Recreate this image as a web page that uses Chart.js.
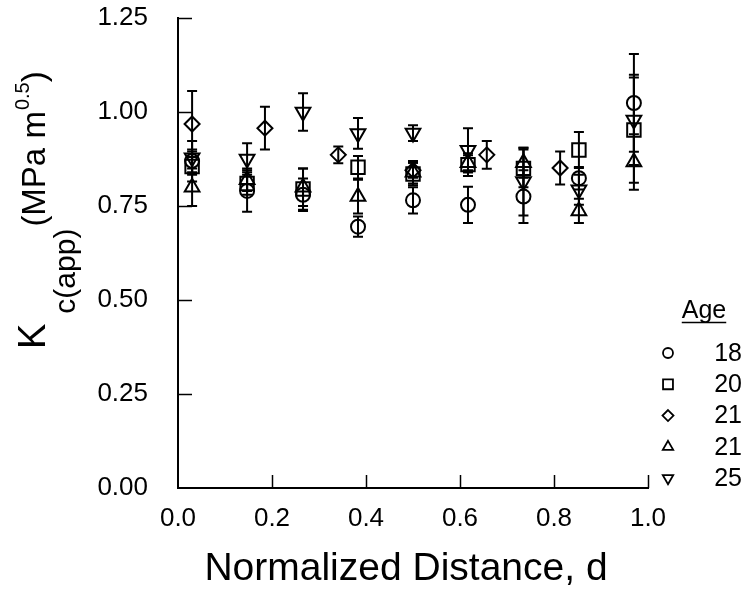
<!DOCTYPE html>
<html><head><meta charset="utf-8">
<script src="https://cdn.jsdelivr.net/npm/chart.js@4/dist/chart.umd.min.js"></script>
<style>html,body{margin:0;padding:0;background:#fff}</style>
</head><body>
<canvas id="c" width="750" height="593" style="display:block;width:750px;height:593px"></canvas>
<script>
// ---- data ----
const seriesLabels = ['18', '20', '21', '21', '25'];
const dist = [0.03, 0.147, 0.266, 0.383, 0.50, 0.617, 0.735, 0.853, 0.97];
const distDiamond = [0.03, 0.185, 0.341, 0.50, 0.657, 0.813];
const k18 = [0.87, 0.79, 0.78, 0.695, 0.765, 0.753, 0.775, 0.824, 1.024];
const err18 = [0.03, 0.055, 0.043, 0.027, 0.035, 0.048, 0.07, 0.03, 0.13];
const k20 = [0.855, 0.81, 0.795, 0.853, 0.835, 0.86, 0.85, 0.899, 0.952];
const err20 = [0.04, 0.03, 0.055, 0.03, 0.03, 0.03, 0.05, 0.048, 0.14];
const k21a = [0.968, 0.957, 0.886, 0.845, 0.886, 0.851];
const err21a = [0.088, 0.057, 0.022, 0.02, 0.037, 0.044];
const k21b = [0.80, 0.82, 0.80, 0.775, 0.84, 0.865, 0.865, 0.737, 0.867];
const err21b = [0.05, 0.03, 0.05, 0.045, 0.03, 0.02, 0.04, 0.032, 0.074];
const k25 = [0.878, 0.875, 1.00, 0.943, 0.944, 0.898, 0.815, 0.793, 0.979];
const err25 = [0.045, 0.042, 0.05, 0.041, 0.021, 0.059, 0.09, 0.04, 0.12];
const xTickLabels = ['0.0', '0.2', '0.4', '0.6', '0.8', '1.0'];
const yTickLabels = ['0.00', '0.25', '0.50', '0.75', '1.00', '1.25'];
const xTitle = 'Normalized Distance, d';
const legendTitle = 'Age';

const FONT = '"Liberation Sans", Arial, sans-serif';

function pts(xs, ys, es) {
  return xs.map((x, i) => ({ x: x, y: ys[i], e: es[i] }));
}

const styles = [
  { pointStyle: 'circle', radius: 7, rotation: 0, lr: 5 },
  { pointStyle: 'rect', radius: 9.5, rotation: 0, lr: 7 },
  { pointStyle: 'rectRot', radius: 7.5, rotation: 0, lr: 5.5 },
  { pointStyle: 'triangle', radius: 8.5, rotation: 0, lr: 6 },
  { pointStyle: 'triangle', radius: 8.5, rotation: 180, lr: 6 }
];
const dataSets = [
  pts(dist, k18, err18),
  pts(dist, k20, err20),
  pts(distDiamond, k21a, err21a),
  pts(dist, k21b, err21b),
  pts(dist, k25, err25)
];

const datasets = dataSets.map((d, i) => ({
  label: seriesLabels[i],
  data: d,
  showLine: false,
  pointStyle: styles[i].pointStyle,
  pointRadius: styles[i].radius,
  pointHoverRadius: styles[i].radius,
  pointRotation: styles[i].rotation,
  pointBorderWidth: 2,
  pointBorderColor: '#000',
  pointBackgroundColor: 'rgba(0,0,0,0)',
  borderColor: '#000',
  backgroundColor: 'rgba(0,0,0,0)'
}));

function marker(ctx, style, r, rot, x, y) {
  ctx.beginPath();
  if (style === 'circle') {
    ctx.arc(x, y, r, 0, Math.PI * 2);
  } else if (style === 'rect') {
    const s = r * Math.SQRT1_2;
    ctx.rect(x - s, y - s, 2 * s, 2 * s);
  } else if (style === 'rectRot') {
    ctx.moveTo(x, y - r); ctx.lineTo(x + r, y); ctx.lineTo(x, y + r); ctx.lineTo(x - r, y); ctx.closePath();
  } else if (style === 'triangle') {
    const sgn = rot === 180 ? -1 : 1;
    const h = r * Math.sin(Math.PI / 3);
    ctx.moveTo(x, y - sgn * r);
    ctx.lineTo(x + h, y + sgn * r / 2);
    ctx.lineTo(x - h, y + sgn * r / 2);
    ctx.closePath();
  }
  ctx.stroke();
}

const decor = {
  id: 'decor',
  beforeDatasetsDraw(chart) {
    const ctx = chart.ctx;
    const xs = chart.scales.x, ys = chart.scales.y;
    ctx.save();
    ctx.strokeStyle = '#000';
    ctx.lineWidth = 2;
    // error bars
    chart.data.datasets.forEach(ds => {
      ds.data.forEach(p => {
        const px = xs.getPixelForValue(p.x);
        const pt = ys.getPixelForValue(p.y + p.e);
        const pb = ys.getPixelForValue(p.y - p.e);
        ctx.beginPath();
        ctx.moveTo(px, pt); ctx.lineTo(px, pb);
        ctx.moveTo(px - 5, pt); ctx.lineTo(px + 5, pt);
        ctx.moveTo(px - 5, pb); ctx.lineTo(px + 5, pb);
        ctx.stroke();
      });
    });
    // inward tick marks
    ctx.lineWidth = 1.5;
    const a = chart.chartArea;
    xs.ticks.forEach(t => {
      if (t.value === 0) return;
      const px = Math.round(xs.getPixelForValue(t.value)) + 0.5;
      ctx.beginPath(); ctx.moveTo(px, a.bottom); ctx.lineTo(px, a.bottom - 13); ctx.stroke();
    });
    ys.ticks.forEach(t => {
      if (t.value === 0) return;
      const py = Math.round(ys.getPixelForValue(t.value)) + 0.5;
      ctx.beginPath(); ctx.moveTo(a.left, py); ctx.lineTo(a.left + 14, py); ctx.stroke();
    });
    ctx.restore();
  },
  afterDraw(chart) {
    const ctx = chart.ctx;
    ctx.save();
    ctx.fillStyle = '#000';
    // x title
    ctx.font = '39px ' + FONT;
    ctx.textAlign = 'center';
    ctx.textBaseline = 'alphabetic';
    ctx.fillText(xTitle, 406, 580);
    // y title (rotated, with subscript and superscript)
    ctx.save();
    ctx.translate(45, 349);
    ctx.rotate(-Math.PI / 2);
    ctx.textAlign = 'left';
    let pos = 0;
    ctx.font = '38px ' + FONT;
    ctx.fillText('K', pos, 0); pos += ctx.measureText('K').width + 10;
    ctx.font = '30px ' + FONT;
    ctx.fillText('c(app)', pos, 30); pos += ctx.measureText('c(app)').width + 2;
    ctx.font = '33px ' + FONT;
    ctx.fillText('(MPa m', pos, 0); pos += ctx.measureText('(MPa m').width + 1;
    ctx.font = '20px ' + FONT;
    ctx.fillText('0.5', pos, -16); pos += ctx.measureText('0.5').width;
    ctx.font = '33px ' + FONT;
    ctx.fillText(')', pos, 0);
    ctx.restore();
    // legend
    ctx.font = '25px ' + FONT;
    ctx.textAlign = 'center';
    ctx.fillText(legendTitle, 704, 318);
    const w = ctx.measureText(legendTitle).width;
    ctx.strokeStyle = '#000';
    ctx.lineWidth = 1.5;
    ctx.beginPath(); ctx.moveTo(704 - w / 2, 322.5); ctx.lineTo(704 + w / 2, 322.5); ctx.stroke();
    ctx.textAlign = 'right';
    ctx.textBaseline = 'middle';
    seriesLabels.forEach((lab, i) => {
      const y = 353 + i * 31.3;
      ctx.fillText(lab, 742, y + 1);
      ctx.lineWidth = 1.8;
      marker(ctx, styles[i].pointStyle, styles[i].lr, styles[i].rotation, 668, y);
    });
    ctx.restore();
  }
};

new Chart(document.getElementById('c'), {
  type: 'scatter',
  data: { datasets: datasets },
  plugins: [decor],
  options: {
    responsive: false,
    animation: false,
    events: [],
    layout: { padding: { top: 18, right: 102, left: 0, bottom: 0 } },
    plugins: { legend: { display: false }, tooltip: { enabled: false } },
    scales: {
      x: {
        type: 'linear', min: 0, max: 1,
        grid: { display: false, drawTicks: false },
        border: { display: true, color: '#000', width: 2 },
        ticks: {
          stepSize: 0.2, padding: 15, color: '#000',
          font: { family: FONT, size: 26 },
          callback: (v) => xTickLabels[Math.round(v / 0.2)]
        },
        afterFit(s) { s.height = 105; s.paddingLeft = 0; s.paddingRight = 0; }
      },
      y: {
        type: 'linear', min: 0, max: 1.25,
        grid: { display: false, drawTicks: false },
        border: { display: true, color: '#000', width: 2 },
        ticks: {
          stepSize: 0.25, padding: 30, color: '#000',
          font: { family: FONT, size: 26 },
          callback: (v) => yTickLabels[Math.round(v / 0.25)]
        },
        afterFit(s) { s.width = 178; s.paddingTop = 0; s.paddingBottom = 0; }
      }
    }
  }
});
</script>
</body></html>
